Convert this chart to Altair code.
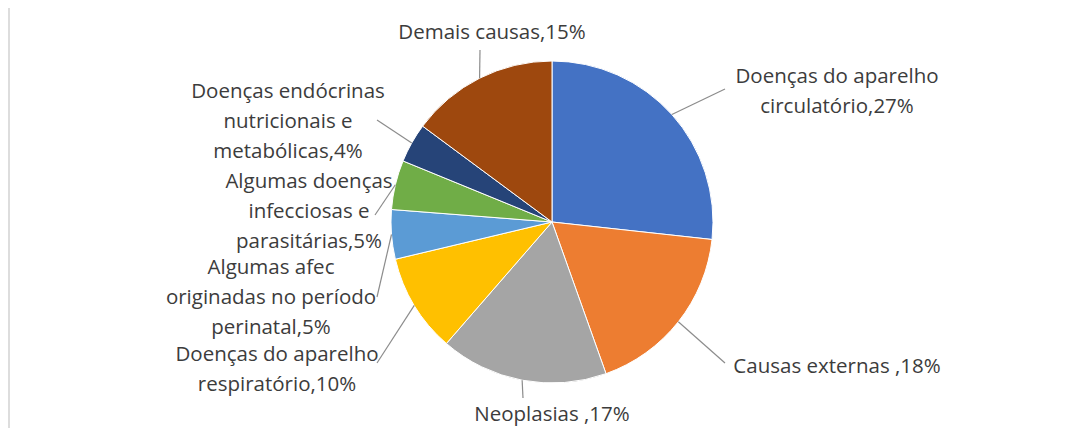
import altair as alt
import pandas as pd
import numpy as np

# ---- data ----
categories = [
    "Doenças do aparelho circulatório",
    "Causas externas",
    "Neoplasias",
    "Doenças do aparelho respiratório",
    "Algumas afec originadas no período perinatal",
    "Algumas doenças infecciosas e parasitárias",
    "Doenças endócrinas nutricionais e metabólicas",
    "Demais causas",
]
values = [27, 18, 17, 10, 5, 5, 4, 15]
label_texts = [
    "Doenças do aparelho\ncirculatório,27%",
    "Causas externas ,18%",
    "Neoplasias ,17%",
    "Doenças do aparelho\nrespiratório,10%",
    "Algumas afec\noriginadas no período\nperinatal,5%",
    "Algumas doenças\ninfecciosas e\nparasitárias,5%",
    "Doenças endócrinas\nnutricionais e\nmetabólicas,4%",
    "Demais causas,15%",
]
colors = ["#4472C4", "#ED7D31", "#A5A5A5", "#FFC000",
          "#5B9BD5", "#70AD47", "#264478", "#9E480E"]

# ---- layout (pixels relative to the pie centre; label y = first line) ----
W, H = 1046, 412
R = 161
label_dx = [285, 285, 0, -275, -281, -243, -264, -60]
label_dy = [-145, 145, 193, 133, 46, -40, -130, -189]
leader_dx = [173, 173, -29, -175, -175, -177, -175, -72]
leader_dy = [-133, 141, 176, 141, 75, -7, -102, -172]

cx, cy = W / 2, H / 2
vals = np.array(values, dtype=float)
cum = np.cumsum(vals)
mid = (cum - vals / 2) / vals.sum() * 2 * np.pi

df = pd.DataFrame({
    "cat": categories,
    "value": values,
    "order": list(range(len(values))),
    "label": label_texts,
    "lx": [cx + d for d in label_dx],
    "ly": [cy + d for d in label_dy],
    "sx": cx + R * np.sin(mid),
    "sy": cy - R * np.cos(mid),
    "ex": [cx + d for d in leader_dx],
    "ey": [cy + d for d in leader_dy],
})

pie = alt.Chart(df).mark_arc(outerRadius=R, stroke="white", strokeWidth=1).encode(
    theta=alt.Theta("value:Q", stack=True),
    order=alt.Order("order:Q"),
    color=alt.Color("cat:N", scale=alt.Scale(domain=categories, range=colors), legend=None),
)

leaders = alt.Chart(df).mark_rule(color="#8c8c8c", strokeWidth=1.2).encode(
    x=alt.X("sx:Q", scale=None),
    y=alt.Y("sy:Q", scale=None),
    x2="ex:Q",
    y2="ey:Q",
)

labels = alt.Chart(df).mark_text(
    font="Open Sans", fontSize=20.5, color="#3c3c3c",
    align="center", baseline="middle", lineBreak="\n", lineHeight=30,
).encode(
    x=alt.X("lx:Q", scale=None),
    y=alt.Y("ly:Q", scale=None),
    text="label:N",
)

frame = alt.Chart(df).mark_rule(color="#dcdcdc", strokeWidth=1.5).encode(
    x=alt.value(-20), y=alt.value(-8), y2=alt.value(H + 12),
)

chart = alt.layer(frame, pie, leaders, labels).properties(
    width=W, height=H,
    autosize=alt.AutoSizeParams(type="none"),
    padding={"left": 21, "top": 8, "right": 0, "bottom": 0},
).configure_view(stroke=None)

chart.save("out.html", embed_options={"renderer": "svg", "actions": False})
